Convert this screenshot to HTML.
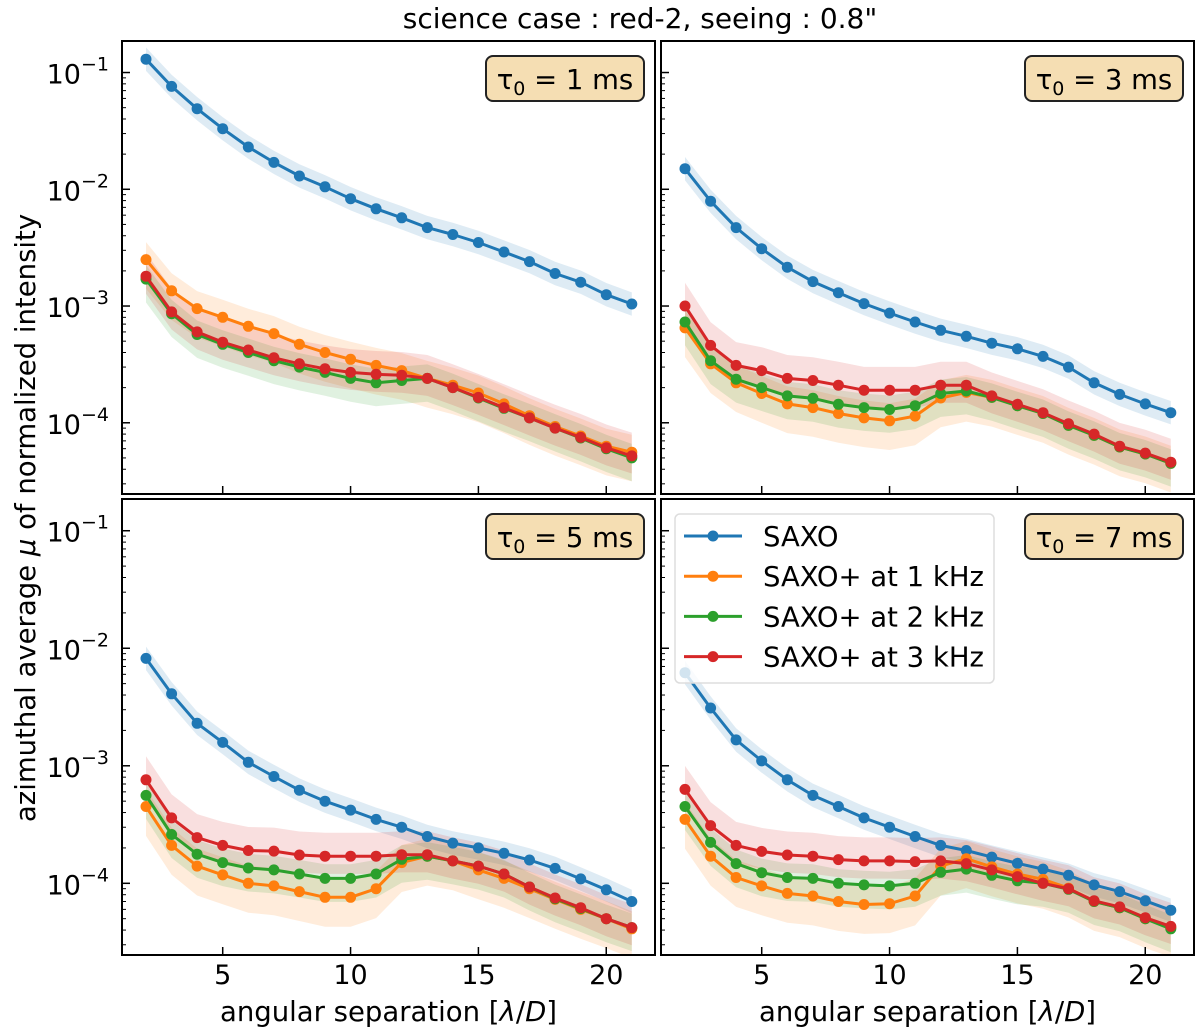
<!DOCTYPE html>
<html><head><meta charset="utf-8"><style>
html,body{margin:0;padding:0;background:#fff;}
svg{display:block;font-family:"DejaVu Sans","Liberation Sans",sans-serif;}
</style></head><body>
<svg id="fig" width="1200" height="1032" viewBox="0 0 1200 1032" xmlns="http://www.w3.org/2000/svg">
<text x="640" y="28" font-size="28" text-anchor="middle" fill="#000">science case : red-2, seeing : 0.8"</text>
<text transform="translate(35,518) rotate(-90)" font-size="27.5" text-anchor="middle" fill="#000">azimuthal average <tspan font-style="italic">μ</tspan> of normalized intensity</text>
</svg>
<script>
const xs = [2,3,4,5,6,7,8,9,10,11,12,13,14,15,16,17,18,19,20,21];
const seriesNames = ["SAXO","SAXO+ at 1 kHz","SAXO+ at 2 kHz","SAXO+ at 3 kHz"];
const tauLabels = ["1","3","5","7"];
// panel 1 (tau0 = 1 ms)
const p1Saxo = [0.13,0.076,0.049,0.033,0.023,0.017,0.013,0.0105,0.0083,0.0068,0.0057,0.0047,0.0041,0.0035,0.0029,0.0024,0.0019,0.0016,0.00125,0.00104];
const p1K1 = [0.0025,0.00135,0.00095,0.0008,0.00067,0.00058,0.00047,0.0004,0.00035,0.00031,0.00028,0.00024,0.00021,0.00018,0.000145,0.000115,0.000093,0.000077,0.000063,0.000056];
const p1K2 = [0.0017,0.00086,0.00057,0.00047,0.0004,0.00034,0.0003,0.00027,0.00024,0.00022,0.00023,0.00024,0.0002,0.000163,0.000133,0.00011,0.00009,0.000074,0.00006,0.00005];
const p1K3 = [0.0018,0.00089,0.0006,0.00049,0.00042,0.00036,0.00032,0.00029,0.00027,0.00026,0.000255,0.00024,0.0002,0.000165,0.000135,0.00011,0.00009,0.000075,0.000061,0.000052];
// panel 2 (tau0 = 3 ms)
const p2Saxo = [0.015,0.0079,0.0047,0.0031,0.00215,0.00162,0.0013,0.00105,0.00087,0.00073,0.00062,0.00055,0.00048,0.00043,0.00037,0.0003,0.00022,0.000175,0.000145,0.000122];
const p2K1 = [0.00065,0.00032,0.00022,0.000178,0.000145,0.000135,0.00012,0.00011,0.000104,0.000114,0.000163,0.000182,0.000165,0.00014,0.00012,0.000095,0.000078,0.000062,0.000054,0.000045];
const p2K2 = [0.00073,0.00034,0.000236,0.0002,0.00017,0.000162,0.000144,0.000135,0.00013,0.00014,0.000178,0.000187,0.000165,0.00014,0.00012,0.000095,0.000078,0.000062,0.000054,0.000045];
const p2K3 = [0.001,0.00046,0.00031,0.00028,0.00024,0.00023,0.00021,0.00019,0.00019,0.00019,0.00021,0.00021,0.00017,0.000144,0.000122,0.000098,0.00008,0.000063,0.000055,0.000046];
// panel 3 (tau0 = 5 ms)
const p3Saxo = [0.0082,0.0041,0.0023,0.00158,0.00107,0.00081,0.00062,0.0005,0.00042,0.00035,0.0003,0.00025,0.00022,0.0002,0.00018,0.000158,0.000134,0.000109,0.000088,0.00007];
const p3K1 = [0.00045,0.00021,0.00014,0.000118,0.0001,0.000095,0.000085,0.000076,0.000076,0.00009,0.00015,0.00017,0.000155,0.00013,0.00011,0.00009,0.000073,0.00006,0.00005,0.000041];
const p3K2 = [0.00056,0.00026,0.000177,0.00015,0.000135,0.00013,0.00012,0.00011,0.00011,0.00012,0.00016,0.00017,0.000155,0.00014,0.00012,0.000093,0.000074,0.000061,0.00005,0.000042];
const p3K3 = [0.00076,0.00036,0.000245,0.00021,0.00019,0.000188,0.000174,0.00017,0.00017,0.00017,0.000175,0.000175,0.000155,0.00014,0.00012,0.000093,0.000075,0.000062,0.00005,0.000042];
// panel 4 (tau0 = 7 ms)
const p4Saxo = [0.0062,0.0031,0.00166,0.0011,0.00076,0.00056,0.00045,0.00036,0.0003,0.00025,0.00021,0.00019,0.000167,0.000148,0.000132,0.000117,0.000097,0.000085,0.000071,0.000059];
const p4K1 = [0.00035,0.00017,0.000112,0.000095,0.000082,0.000078,0.00007,0.000066,0.000067,0.000078,0.00014,0.000162,0.000138,0.00012,0.000108,0.000091,0.00007,0.000062,0.00005,0.000042];
const p4K2 = [0.00045,0.000223,0.000147,0.000123,0.000112,0.00011,0.0001,0.000097,0.000095,0.0001,0.000124,0.000132,0.000117,0.000105,0.0001,0.000089,0.00007,0.000062,0.00005,0.000041];
const p4K3 = [0.00063,0.00031,0.00021,0.000187,0.000174,0.00017,0.000159,0.000155,0.000155,0.000153,0.000155,0.000147,0.00013,0.000114,0.0001,0.00009,0.000071,0.000063,0.000051,0.000043];
// band half-widths (dex) per series: below / above
const bandBelow = [0.1,0.25,0.2,0.15];
const bandAbove = [0.1,0.15,0.12,0.2];
const xTicks = [5,10,15,20];
const yDecades = [-4,-3,-2,-1];

const colors = ["#1f77b4","#ff7f0e","#2ca02c","#d62728"];
const panelData = [[p1Saxo,p1K1,p1K2,p1K3],[p2Saxo,p2K1,p2K2,p2K3],[p3Saxo,p3K1,p3K2,p3K3],[p4Saxo,p4K1,p4K2,p4K3]];
const panels = [
  {l:122,r:655,t:41,b:494},
  {l:661,r:1194,t:41,b:494},
  {l:122,r:655,t:499,b:955},
  {l:661,r:1194,t:499,b:955}
];
const NS="http://www.w3.org/2000/svg";
const svg=document.getElementById('fig');
function mk(tag,attrs,parent){const e=document.createElementNS(NS,tag);for(const k in attrs)e.setAttribute(k,attrs[k]);(parent||svg).appendChild(e);return e;}
const LMIN=-4.61, LMAX=-0.73;

panels.forEach((P,pi)=>{
  const g=mk('g',{});
  
  
  const xS=v=>P.l+24+(v-2)*25.57;
  const yS=v=>P.t+(LMAX-Math.log10(v))/(LMAX-LMIN)*(P.b-P.t);
  const clipId='clip'+pi;
  const cp=mk('clipPath',{id:clipId},g);
  mk('rect',{x:P.l,y:P.t,width:P.r-P.l,height:P.b-P.t},cp);
  const inner=mk('g',{'clip-path':'url(#'+clipId+')'},g);
  const data=panelData[pi];
  data.forEach((vals,si)=>{
    let d='';
    vals.forEach((v,i)=>{d+=(i?'L':'M')+xS(xs[i]).toFixed(1)+','+yS(v*Math.pow(10,bandAbove[si])).toFixed(1);});
    for(let i=vals.length-1;i>=0;i--){d+='L'+xS(xs[i]).toFixed(1)+','+yS(vals[i]/Math.pow(10,bandBelow[si])).toFixed(1);}
    d+='Z';
    const band=mk('path',{d:d,fill:colors[si],'fill-opacity':0.15,stroke:'none'},inner);
    
    
  });
  data.forEach((vals,si)=>{
    const pts=vals.map((v,i)=>xS(xs[i]).toFixed(1)+','+yS(v).toFixed(1)).join(' ');
    const ln=mk('polyline',{points:pts,fill:'none',stroke:colors[si],'stroke-width':3,'stroke-linejoin':'round'},inner);
    
    
    vals.forEach((v,i)=>{
      const c=mk('circle',{cx:xS(xs[i]).toFixed(1),cy:yS(v).toFixed(1),r:5.5,fill:colors[si]},inner);
      
      
    });
  });
  const fr=mk('rect',{x:P.l,y:P.t,width:P.r-P.l,height:P.b-P.t,fill:'none',stroke:'#000','stroke-width':2},g);
  
  
  xTicks.forEach(t=>{
    const x=xS(t);
    mk('line',{x1:x,x2:x,y1:P.b,y2:P.b-8,stroke:'#000','stroke-width':1.5},g);
    if(pi>=2){
      const tl=mk('text',{x:x,y:P.b+29,'font-size':27,'text-anchor':'middle',fill:'#000'},g);
      tl.textContent=t;
      
      
    }
  });
  yDecades.forEach(dc=>{
    const y=yS(Math.pow(10,dc));
    mk('line',{x1:P.l,x2:P.l+8,y1:y,y2:y,stroke:'#000','stroke-width':1.5},g);
    for(let m=2;m<=9;m++){
      const ym=yS(m*Math.pow(10,dc));
      if(ym>P.t&&ym<P.b) mk('line',{x1:P.l,x2:P.l+4,y1:ym,y2:ym,stroke:'#000','stroke-width':1},g);
    }
    for(let m=2;m<=9;m++){
      const ym=yS(m*Math.pow(10,dc-1));
      if(dc===-4&&ym>P.t&&ym<P.b) mk('line',{x1:P.l,x2:P.l+4,y1:ym,y2:ym,stroke:'#000','stroke-width':1},g);
    }
    if(pi%2===0){
      const tl=mk('text',{x:P.l-13,y:y+11,'font-size':27,'text-anchor':'end',fill:'#000'},g);
      
      
      const a=mk('tspan',{},tl);a.textContent='10';
      const b=mk('tspan',{dy:-13,'font-size':19},tl);b.textContent='−'+(-dc);
    }
  });
  if(pi>=2){
    const xl=mk('text',{x:(P.l+P.r)/2,y:1021,'font-size':27.5,'text-anchor':'middle',fill:'#000'},g);
    
    
    const s1=mk('tspan',{},xl);s1.textContent='angular separation [';
    const s2=mk('tspan',{'font-style':'italic'},xl);s2.textContent='λ';
    const s3=mk('tspan',{},xl);s3.textContent='/';
    const s4=mk('tspan',{'font-style':'italic'},xl);s4.textContent='D';
    const s5=mk('tspan',{},xl);s5.textContent=']';
  }
  const bx=P.r-169, by=P.t+15;
  const box=mk('rect',{x:bx,y:by,width:158,height:45,rx:7,fill:'#f5deb3',stroke:'#222','stroke-width':2},g);
  
  
  const tt=mk('text',{x:bx+79,y:by+33,'font-size':27.5,'text-anchor':'middle',fill:'#000'},g);
  
  
  const t1=mk('tspan',{},tt);t1.textContent='τ';
  const t2=mk('tspan',{dy:6,'font-size':19},tt);t2.textContent='0';
  const t3=mk('tspan',{dy:-6},tt);t3.textContent=' = '+tauLabels[pi]+' ms';
});

const lg=mk('g',{});


mk('rect',{x:675,y:514,width:319,height:169,rx:5,fill:'#fff','fill-opacity':0.8,stroke:'#ddd','stroke-width':1.5},lg);
seriesNames.forEach((n,i)=>{
  const y=536+i*40.2;
  const e=mk('g',{},lg);
  
  
  mk('line',{x1:684,x2:742,y1:y,y2:y,stroke:colors[i],'stroke-width':3},e);
  mk('circle',{cx:713,cy:y,r:5.5,fill:colors[i]},e);
  const t=mk('text',{x:763,y:y+10,'font-size':27.5,fill:'#000'},e);
  t.textContent=n;
});
</script>
</body></html>
